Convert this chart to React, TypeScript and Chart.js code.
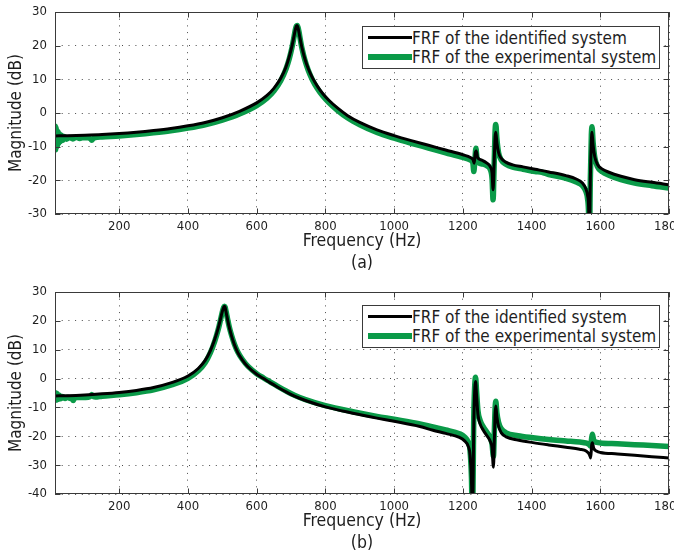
import React, { useEffect, useRef } from 'react';
import { Chart, registerables } from 'chart.js';

Chart.register(...registerables);

// ---------------- data ----------------
const X_MIN = 13;
const X_MAX = 1800;
const X_TICKS = [200, 400, 600, 800, 1000, 1200, 1400, 1600, 1800];
const Y_TICKS_A = [-30, -20, -10, 0, 10, 20, 30];
const Y_TICKS_B = [-40, -30, -20, -10, 0, 10, 20, 30];
const LEGEND_LABELS = ['FRF of the identified system', 'FRF of the experimental system'];
const X_TITLE = 'Frequency (Hz)';
const Y_TITLE = 'Magnitude (dB)';
const CAPTIONS = ['(a)', '(b)'];

// panel (a) – identified system
const A_ID_FREQ = [13, 50, 100, 150, 200, 250, 300, 350, 400, 450, 500, 550, 600, 630, 650, 670, 685, 695, 703, 709, 713, 716, 718, 720, 723, 727, 732, 740, 750, 762, 777, 792, 810, 835, 865, 900, 950, 1000, 1050, 1100, 1150, 1200, 1222, 1230, 1233, 1236, 1239, 1243, 1255, 1270, 1280, 1285, 1288, 1291, 1294, 1296, 1299, 1304, 1312, 1325, 1345, 1375, 1410, 1450, 1500, 1530, 1548, 1558, 1563, 1566, 1568, 1571, 1574, 1576, 1579, 1584, 1592, 1605, 1625, 1660, 1700, 1750, 1800];
const A_ID_MAG = [-6.8, -6.75, -6.6, -6.4, -6.1, -5.7, -5.2, -4.6, -3.8, -2.8, -1.4, 0.5, 3.0, 5.2, 7.3, 10.3, 13.6, 16.8, 20.0, 23.0, 25.0, 25.9, 26.0, 25.4, 24.0, 21.8, 19.3, 16.2, 13.2, 10.5, 7.9, 5.8, 3.8, 1.5, -0.8, -2.8, -5.0, -6.7, -8.2, -9.6, -11.0, -12.4, -13.2, -13.9, -14.9, -12.0, -11.3, -13.2, -14.0, -14.9, -16.0, -17.8, -22.8, -15.0, -7.0, -5.7, -8.8, -11.8, -13.5, -14.6, -15.4, -16.0, -16.7, -17.5, -18.6, -19.6, -20.8, -22.5, -24.5, -28.0, -40.0, -20.0, -8.5, -5.7, -9.5, -13.0, -15.3, -16.6, -17.6, -18.8, -19.8, -20.6, -21.3];

// panel (a) – experimental system
const A_EXP_FREQ = [13, 14, 15, 16, 17, 18, 20, 22, 24, 26, 29, 32, 36, 40, 46, 55, 65, 75, 85, 95, 110, 117, 120, 123, 130, 150, 200, 250, 300, 350, 400, 450, 500, 550, 600, 630, 650, 670, 685, 695, 703, 709, 713, 716, 718, 720, 723, 727, 732, 740, 750, 762, 777, 792, 810, 835, 865, 900, 950, 1000, 1050, 1100, 1150, 1200, 1222, 1229, 1232, 1235, 1238, 1241, 1246, 1258, 1270, 1280, 1285, 1288, 1291, 1294, 1296, 1299, 1304, 1312, 1325, 1345, 1375, 1410, 1430, 1450, 1500, 1530, 1548, 1558, 1563, 1566, 1568, 1571, 1574, 1576, 1579, 1584, 1592, 1605, 1625, 1660, 1700, 1750, 1800];
const A_EXP_MAG = [-6.5, -3.9, -10.9, -4.4, -10.2, -5.0, -9.8, -5.6, -9.0, -6.2, -8.5, -6.6, -8.1, -7.0, -7.8, -7.3, -7.7, -7.2, -7.6, -7.3, -7.4, -7.7, -8.1, -7.7, -7.3, -7.1, -6.8, -6.4, -5.9, -5.3, -4.5, -3.5, -2.1, -0.3, 2.2, 4.4, 6.5, 9.6, 13.0, 16.2, 19.6, 22.8, 25.0, 25.9, 26.0, 25.5, 24.2, 21.8, 19.1, 15.8, 12.7, 9.9, 7.2, 5.1, 3.1, 0.8, -1.5, -3.5, -5.8, -7.5, -9.0, -10.4, -11.8, -13.2, -14.0, -14.8, -17.4, -14.0, -10.5, -13.2, -14.8, -15.2, -15.7, -16.8, -19.5, -25.8, -16.0, -5.0, -3.4, -7.5, -11.8, -14.0, -15.2, -16.1, -16.7, -17.4, -17.6, -18.3, -19.4, -20.5, -21.6, -23.3, -25.5, -30.0, -42.0, -20.0, -6.5, -4.1, -8.5, -13.2, -16.0, -17.4, -18.5, -19.8, -20.8, -21.6, -22.3];

// panel (b) – identified system
const B_ID_FREQ = [13, 50, 100, 150, 200, 250, 300, 350, 400, 430, 450, 465, 478, 488, 495, 500, 504, 506, 508, 511, 515, 520, 527, 535, 545, 558, 575, 600, 620, 640, 660, 687, 710, 740, 800, 880, 950, 1000, 1075, 1113, 1150, 1190, 1205, 1215, 1221, 1225, 1228, 1232, 1235, 1237, 1240, 1244, 1250, 1260, 1270, 1280, 1285, 1289, 1292, 1294, 1296, 1299, 1304, 1312, 1326, 1360, 1404, 1450, 1500, 1540, 1560, 1568, 1572, 1575, 1577, 1581, 1590, 1600, 1650, 1700, 1750, 1800];
const B_ID_MAG = [-6.0, -5.95, -5.7, -5.3, -4.8, -4.1, -3.1, -1.5, 0.9, 3.5, 6.3, 9.6, 13.6, 17.5, 20.8, 23.3, 24.7, 25.1, 24.7, 23.0, 20.6, 17.8, 14.7, 11.8, 9.0, 6.5, 4.0, 1.5, 0.0, -1.5, -2.9, -4.7, -6.1, -7.5, -9.8, -12.0, -13.7, -14.8, -16.6, -17.9, -19.0, -20.4, -21.6, -23.3, -26.5, -35.0, -50.0, -15.0, -3.0, -1.0, -6.0, -12.5, -15.6, -18.0, -19.8, -21.8, -24.0, -30.7, -20.0, -12.0, -9.5, -13.2, -16.6, -18.8, -20.2, -21.3, -22.2, -23.0, -23.8, -24.5, -25.2, -26.2, -27.5, -23.0, -22.2, -24.2, -25.2, -25.6, -26.1, -26.6, -27.1, -27.5];

// panel (b) – experimental system
const B_EXP_FREQ = [13, 14, 15, 16, 18, 20, 23, 26, 30, 35, 42, 50, 58, 63, 66, 69, 75, 90, 110, 117, 120, 123, 130, 150, 200, 250, 300, 350, 400, 430, 450, 465, 478, 488, 495, 500, 504, 506, 508, 511, 515, 520, 527, 535, 545, 558, 575, 600, 620, 640, 660, 687, 710, 740, 800, 880, 950, 1000, 1075, 1113, 1150, 1190, 1205, 1215, 1221, 1225, 1228, 1232, 1235, 1237, 1240, 1244, 1250, 1260, 1270, 1280, 1285, 1289, 1292, 1294, 1296, 1299, 1304, 1312, 1326, 1360, 1404, 1450, 1500, 1540, 1560, 1568, 1572, 1575, 1577, 1581, 1590, 1600, 1650, 1700, 1750, 1800];
const B_EXP_MAG = [-6.5, -4.9, -7.5, -5.0, -7.4, -5.3, -7.2, -5.8, -7.0, -6.2, -6.9, -6.5, -6.9, -7.1, -7.6, -7.0, -6.6, -6.6, -6.5, -6.1, -5.5, -6.1, -6.4, -6.1, -5.6, -4.9, -3.9, -2.3, 0.1, 2.7, 5.5, 8.9, 13.0, 17.0, 20.5, 23.1, 24.7, 25.1, 24.8, 23.2, 20.8, 18.0, 14.9, 12.0, 9.2, 6.7, 4.2, 1.7, 0.2, -1.2, -2.6, -4.4, -5.8, -7.2, -9.4, -11.5, -13.1, -14.1, -15.7, -16.8, -17.8, -19.1, -20.2, -21.9, -25.0, -34.0, -50.0, -12.0, -1.5, 0.5, -4.5, -11.2, -14.4, -16.8, -18.6, -20.6, -22.8, -27.0, -17.0, -10.0, -7.9, -11.8, -15.2, -17.4, -18.8, -19.8, -20.5, -21.1, -21.6, -22.0, -22.4, -22.9, -23.4, -20.5, -19.3, -21.4, -22.1, -22.3, -22.6, -22.9, -23.2, -23.5];

// ---------------- styles ----------------
const FONT = '"DejaVu Sans Condensed", "Noto Sans", sans-serif';
const TEXT = '#1e1e1e';
const AXIS = '#3a3a3a';
const GRID = '#4a4a4a';
const BLACK = '#000000';
const GREEN = '#0a9a48';
const W = 674;

const zip = (xs: number[], ys: number[]) => xs.map((x, i) => ({ x, y: ys[i] }));

const framePlugin = {
  id: 'matlabFrame',
  afterDraw(chart: any) {
    const { ctx, chartArea } = chart;
    const L = Math.round(chartArea.left) + 0.5;
    const R = Math.round(chartArea.right) - 0.5;
    const T = Math.round(chartArea.top) + 0.5;
    const B = Math.round(chartArea.bottom) - 0.5;
    const xs = chart.scales.x;
    const ys = chart.scales.y;
    ctx.save();
    ctx.setLineDash([]);
    ctx.strokeStyle = AXIS;
    ctx.lineWidth = 1;
    ctx.strokeRect(L, T, R - L, B - T);
    ctx.beginPath();
    xs.ticks.forEach((t: any) => {
      const p = Math.round(xs.getPixelForValue(t.value)) + 0.5;
      ctx.moveTo(p, B); ctx.lineTo(p, B - 5);
      ctx.moveTo(p, T); ctx.lineTo(p, T + 5);
    });
    ys.ticks.forEach((t: any) => {
      const p = Math.round(ys.getPixelForValue(t.value)) + 0.5;
      ctx.moveTo(L, p); ctx.lineTo(L + 5, p);
      ctx.moveTo(R, p); ctx.lineTo(R - 5, p);
    });
    ctx.stroke();
    ctx.restore();
  },
};

type PanelSpec = {
  top: number;
  height: number;
  padTop: number;
  xAxisH: number;
  titlePadBottom: number;
  yMin: number;
  yMax: number;
  yTicks: number[];
  caption: string;
  idFreq: number[];
  idMag: number[];
  expFreq: number[];
  expMag: number[];
  legendTop: number;
};

function Panel({ spec }: { spec: PanelSpec }) {
  const ref = useRef<HTMLCanvasElement | null>(null);
  useEffect(() => {
    if (!ref.current) return;
    const chart = new Chart(ref.current, {
      type: 'line',
      data: {
        datasets: [
          {
            label: LEGEND_LABELS[0],
            data: zip(spec.idFreq, spec.idMag),
            borderColor: BLACK,
            backgroundColor: BLACK,
            borderWidth: 3,
            pointRadius: 0,
            cubicInterpolationMode: 'monotone',
            borderJoinStyle: 'round',
            borderCapStyle: 'round',
            clip: 0,
          },
          {
            label: LEGEND_LABELS[1],
            data: zip(spec.expFreq, spec.expMag),
            borderColor: GREEN,
            backgroundColor: GREEN,
            borderWidth: 5.5,
            pointRadius: 0,
            cubicInterpolationMode: 'monotone',
            borderJoinStyle: 'round',
            borderCapStyle: 'round',
            clip: 0,
          },
        ],
      },
      options: {
        animation: false,
        responsive: false,
        events: [],
        layout: { padding: { left: 0, right: 5, top: spec.padTop, bottom: 0 } },
        plugins: { legend: { display: false }, tooltip: { enabled: false } },
        scales: {
          x: {
            type: 'linear',
            min: X_MIN,
            max: X_MAX,
            afterBuildTicks: (s: any) => { s.ticks = X_TICKS.map((v) => ({ value: v })); },
            afterFit: (s: any) => { s.height = spec.xAxisH; s.paddingLeft = 0; s.paddingRight = 0; },
            ticks: {
              font: { family: FONT, size: 13 },
              color: TEXT,
              padding: 5,
              maxRotation: 0,
              autoSkip: false,
              callback: (v: any) => String(v),
            },
            grid: { color: GRID, lineWidth: 1, drawTicks: false },
            border: { display: false, dash: [1, 5.7] },
            title: {
              display: true,
              text: [X_TITLE, spec.caption],
              font: { family: FONT, size: 17.5, lineHeight: 1.23 },
              color: TEXT,
              padding: { top: 0, bottom: spec.titlePadBottom },
            },
          },
          y: {
            type: 'linear',
            min: spec.yMin,
            max: spec.yMax,
            afterBuildTicks: (s: any) => { s.ticks = spec.yTicks.map((v) => ({ value: v })); },
            afterFit: (s: any) => { s.width = 55; s.paddingTop = 0; s.paddingBottom = 0; },
            ticks: {
              font: { family: FONT, size: 13 },
              color: TEXT,
              padding: 8,
              callback: (v: any) => String(v),
            },
            grid: { color: GRID, lineWidth: 1, drawTicks: false },
            border: { display: false, dash: [1, 5.7] },
            title: {
              display: true,
              text: Y_TITLE,
              font: { family: FONT, size: 17 },
              color: TEXT,
              padding: { top: 6.5, bottom: 0 },
            },
          },
        },
      } as any,
      plugins: [framePlugin],
    });
    return () => chart.destroy();
  }, [spec]);

  return (
    <div style={{ position: 'absolute', left: 0, top: spec.top, width: W, height: spec.height }}>
      <canvas ref={ref} width={W} height={spec.height} style={{ display: 'block' }} />
      <div
        style={{
          position: 'absolute',
          left: 362,
          top: spec.legendTop,
          width: 298,
          height: 43,
          border: `1px solid ${AXIS}`,
          background: '#ffffff',
          boxSizing: 'border-box',
        }}
      >
        {LEGEND_LABELS.map((lab, i) => (
          <div
            key={lab}
            style={{
              position: 'absolute',
              left: 5,
              top: (i === 0 ? 10.7 : 30) - 11,
              height: 22,
              display: 'flex',
              alignItems: 'center',
            }}
          >
            <div style={{ width: 44, height: i === 0 ? 3 : 5.5, background: i === 0 ? BLACK : GREEN }} />
            <span
              style={{
                fontFamily: FONT,
                fontSize: 17,
                color: TEXT,
                whiteSpace: 'nowrap',
                lineHeight: '22px',
              }}
            >
              {lab}
            </span>
          </div>
        ))}
      </div>
    </div>
  );
}

const PANEL_A: PanelSpec = {
  top: 0,
  height: 278,
  padTop: 12,
  xAxisH: 64,
  titlePadBottom: 4,
  yMin: -30,
  yMax: 30,
  yTicks: Y_TICKS_A,
  caption: CAPTIONS[0],
  idFreq: A_ID_FREQ,
  idMag: A_ID_MAG,
  expFreq: A_EXP_FREQ,
  expMag: A_EXP_MAG,
  legendTop: 26,
};

const PANEL_B: PanelSpec = {
  top: 278,
  height: 277,
  padTop: 14,
  xAxisH: 61,
  titlePadBottom: 1,
  yMin: -40,
  yMax: 30,
  yTicks: Y_TICKS_B,
  caption: CAPTIONS[1],
  idFreq: B_ID_FREQ,
  idMag: B_ID_MAG,
  expFreq: B_EXP_FREQ,
  expMag: B_EXP_MAG,
  legendTop: 27,
};

export default function App() {
  return (
    <div style={{ position: 'absolute', left: 0, top: 0, width: W, height: 555, background: '#ffffff' }}>
      <Panel spec={PANEL_A} />
      <Panel spec={PANEL_B} />
    </div>
  );
}
